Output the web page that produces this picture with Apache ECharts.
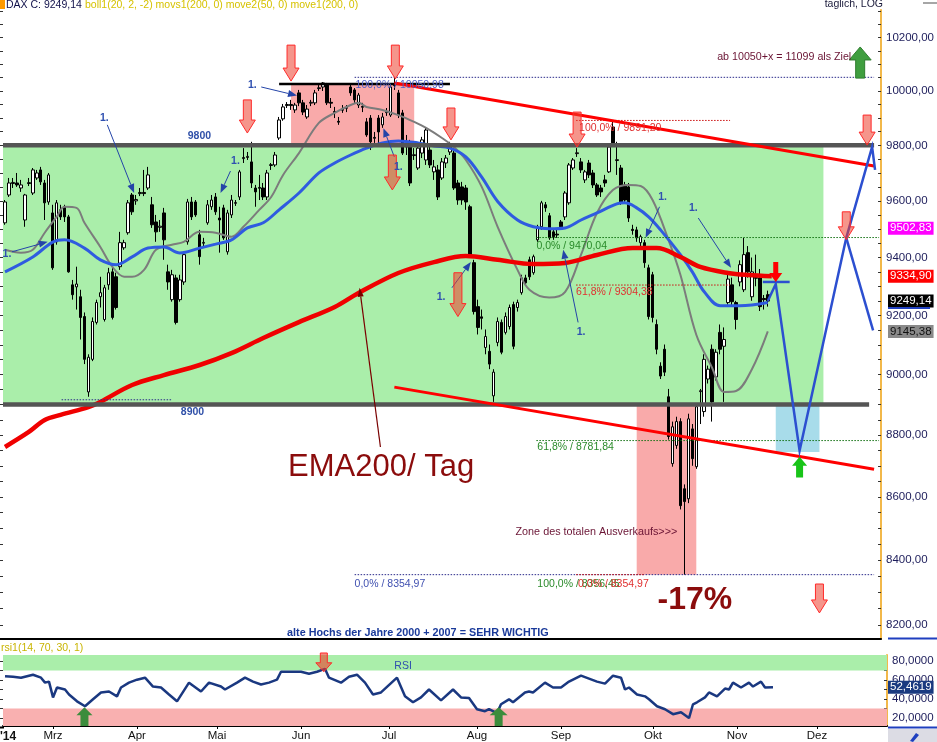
<!DOCTYPE html>
<html><head><meta charset="utf-8">
<script src="https://cdn.jsdelivr.net/npm/echarts@6/dist/echarts.min.js"></script>
<style>html,body{margin:0;padding:0;background:#fff}#c{width:937px;height:742px}</style>
</head><body><div id="c"></div>
<script>
// ---------------- DATA ----------------
const holidays = ['2014-04-18','2014-04-21','2014-05-01','2014-12-24','2014-12-25','2014-12-26'];
const categories = [];
for (let d = Date.UTC(2014,1,12); categories.length < 221; d += 86400000) {
  const dt = new Date(d), wd = dt.getUTCDay(), s = dt.toISOString().slice(0,10);
  if (wd !== 0 && wd !== 6 && holidays.indexOf(s) < 0) categories.push(s);
}
const monthTicks = [[12,'Mrz'],[33,'Apr'],[53,'Mai'],[74,'Jun'],[96,'Jul'],[118,'Aug'],[139,'Sep'],[162,'Okt'],[183,'Nov'],[203,'Dez']];
const priceLabels = [8200,8400,8600,8800,9000,9200,9400,9600,9800,10000,10200];
const rsiLabels = [20,40,60,80];
const rsiMinorTicks = [20,30,40,50,60,70,80];
// [open, close, low, high]
const ohlc = [
[9522,9596,9515,9603],[9621,9664,9614,9682],[9662,9666,9646,9682],[9664,9657,9650,9700],[9646,9657,9632,9675],
[9532,9621,9508,9625],[9665,9662,9653,9682],[9628,9711,9621,9718],[9682,9700,9675,9711],[9711,9668,9657,9722],
[9664,9593,9532,9675],[9596,9693,9586,9700],[9557,9364,9357,9586],[9455,9593,9445,9603],[9568,9543,9532,9586],
[9579,9543,9525,9586],[9543,9350,9347,9550],[9305,9271,9254,9322],[9298,9308,9220,9368],[9264,9193,9118,9288],
[9196,9051,9035,9210],[8942,9058,8926,9068],[9051,9179,9045,9193],[9176,9244,9169,9254],[9264,9278,9227,9333],
[9186,9295,9179,9305],[9305,9347,9288,9364],[9350,9193,9186,9375],[9333,9227,9220,9347],[9368,9452,9357,9490],
[9434,9452,9427,9462],[9487,9593,9480,9603],[9621,9561,9550,9628],[9600,9605,9586,9621],[9626,9630,9617,9646],
[9630,9626,9617,9711],[9646,9693,9639,9722],[9586,9515,9504,9614],[9525,9490,9455,9550],[9506,9510,9490,9532],
[9557,9462,9392,9575],[9350,9315,9288,9375],[9254,9340,9247,9357],[9329,9176,9169,9340],[9254,9322,9247,9340],
[9315,9410,9305,9420],[9455,9596,9445,9607],[9596,9543,9532,9614],[9596,9550,9543,9603],[9480,9403,9375,9497],
[9450,9453,9434,9469],[9522,9586,9515,9603],[9579,9603,9568,9621],[9614,9561,9550,9628],[9539,9532,9417,9579],
[9575,9469,9462,9586],[9420,9557,9410,9568],[9550,9603,9539,9621],[9591,9594,9582,9603],[9614,9704,9603,9711],
[9752,9756,9736,9790],[9756,9760,9747,9776],[9740,9664,9646,9813],[9646,9632,9579,9657],[9648,9645,9603,9693],
[9646,9614,9603,9664],[9614,9700,9603,9711],[9727,9730,9711,9736],[9729,9765,9722,9776],[9827,9893,9820,9904],
[9897,9941,9890,9952],[9946,9950,9937,9959],[9950,9946,9930,9967],[9930,9948,9919,9956],[9993,9956,9944,10004],
[9956,9922,9911,9967],[9904,9933,9897,9948],[9955,9958,9944,9967],[9956,9993,9948,10004],[10009,10012,10000,10022],
[10015,10030,10000,10033],[10022,9956,9948,10030],[9958,9955,9937,9974],[9924,9920,9900,9941],[9888,9885,9875,9904],
[9932,9929,9919,9948],[9936,9939,9922,9948],[10015,9993,9982,10026],[10004,9967,9956,10011],[9948,9985,9937,9993],
[9943,9940,9922,9956],[9886,9838,9831,9900],[9900,9813,9783,9911],[9829,9826,9809,9849],[9900,9849,9801,9911],
[9875,9904,9864,9919],[9920,9924,9908,9937],[9911,10015,9904,10022],[10020,10023,10004,10051],[9993,9911,9900,10004],
[9919,9772,9765,9930],[9813,9794,9765,9838],[9809,9664,9653,9820],[9763,9766,9747,9790],[9718,9790,9711,9801],
[9772,9820,9754,9831],[9747,9856,9729,9867],[9783,9729,9718,9797],[9704,9722,9675,9747],[9711,9614,9603,9729],
[9682,9740,9675,9754],[9736,9754,9718,9765],[9776,9794,9765,9813],[9772,9646,9639,9790],[9664,9603,9586,9675],
[9650,9603,9586,9668],[9646,9596,9568,9657],[9579,9410,9399,9586],[9382,9213,9203,9392],[9230,9159,9135,9254],
[9195,9190,9152,9220],[9091,9128,9068,9152],[9078,9035,9018,9101],[8929,9008,8909,9018],[9108,9179,9095,9193],
[9176,9075,9068,9186],[9142,9196,9135,9210],[9162,9227,9152,9237],[9237,9095,9085,9247],[9227,9244,9213,9254],
[9278,9329,9271,9340],[9329,9312,9305,9340],[9392,9333,9322,9403],[9347,9403,9340,9410],[9462,9508,9455,9515],
[9508,9593,9497,9600],[9586,9575,9561,9596],[9547,9469,9462,9557],[9490,9473,9462,9500],[9482,9479,9469,9497],
[9525,9508,9497,9532],[9543,9628,9532,9635],[9593,9729,9586,9736],[9718,9747,9711,9754],[9770,9773,9758,9790],
[9740,9711,9700,9754],[9675,9704,9664,9711],[9736,9693,9682,9747],[9700,9657,9646,9711],[9657,9621,9614,9664],
[9646,9632,9614,9657],[9675,9664,9650,9693],[9704,9794,9700,9801],[9867,9809,9794,9891],[9745,9748,9693,9813],
[9718,9596,9586,9729],[9657,9603,9590,9668],[9650,9539,9525,9664],[9499,9495,9480,9515],[9497,9469,9455,9508],
[9452,9473,9440,9480],[9452,9382,9364,9462],[9364,9196,9186,9375],[9340,9193,9176,9350],[9169,9085,9068,9186],
[9028,8995,8985,9041],[9085,9008,8995,9101],[8926,8795,8785,8952],[8707,8827,8697,8844],[8766,8844,8755,8860],
[8844,8572,8560,8855],[8626,8585,8355,8640],[8594,8853,8580,8870],[8820,8723,8700,8836],[8697,8893,8690,8905],
[8943,8946,8836,8952],[8877,9051,8860,9068],[8985,9018,8970,9030],[9085,8909,8844,9101],[8992,9075,8980,9085],
[9142,9085,9068,9169],[9095,9118,8909,9159],[9244,9325,9237,9345],[9305,9247,9230,9330],[9244,9186,9152,9250],
[9315,9375,9300,9390],[9288,9410,9280,9469],[9417,9350,9330,9440],[9264,9350,9250,9400],[9330,9328,9300,9410],
[9329,9230,9215,9360],[9258,9254,9220,9270],[9271,9249.14,9230,9285]
];
// [day index, value]
const ema200 = [[0,8761],[6,8810],[10,8849],[14,8866],[21,8892],[24,8909],[32,8965],[40,8998],[49,9032],[57,9072],[65,9123],[74,9177],[83,9229],[89,9277],[99,9346],[108,9384],[116,9405],[124,9392],[133,9377],[141,9381],[149,9409],[158,9433],[164,9433],[170,9402],[175,9367],[182,9346],[187,9339],[193,9334.9]];
const ma50 = [[0,9350],[7,9402],[12,9454],[15,9462],[20,9433],[24,9392],[28,9375],[32,9402],[36,9433],[40,9437],[44,9416],[49,9433],[53,9447],[57,9462],[61,9504],[65,9522],[69,9568],[74,9628],[79,9700],[83,9736],[87,9765],[91,9790],[95,9809],[99,9816],[104,9809],[108,9798],[112,9790],[116,9758],[120,9685],[124,9598],[129,9532],[133,9508],[137,9501],[141,9504],[145,9532],[149,9557],[154,9589],[156,9593],[159,9575],[162,9543],[165,9497],[170,9410],[173,9350],[176,9281],[180,9233],[185,9233],[192,9244]];
const boll20 = [[0,9427],[4,9417],[7,9427],[10,9487],[13,9543],[15,9579],[18,9575],[20,9522],[24,9437],[27,9368],[30,9333],[32,9333],[35,9357],[38,9427],[42,9445],[45,9455],[49,9490],[53,9487],[57,9473],[60,9508],[64,9568],[67,9614],[70,9693],[74,9772],[79,9882],[83,9919],[87,9948],[89,9956],[91,9941],[95,9930],[99,9911],[103,9886],[106,9864],[110,9827],[113,9794],[116,9747],[120,9650],[124,9508],[129,9357],[132,9288],[137,9261],[141,9281],[145,9410],[149,9557],[153,9639],[157,9657],[160,9653],[163,9603],[167,9462],[170,9340],[174,9134],[178,9022],[181,8942],[184,8945],[188,9018],[192,9145.38]];
const rsi = [[0,64],[2,63.4],[4,62.4],[7,65.5],[9,62.4],[10,57.2],[11,58.3],[12,41.7],[13,52.1],[15,50],[16,44.8],[18,37.6],[20,32.4],[22,39.7],[24,46.9],[26,47.9],[28,42.8],[29,52.1],[31,57.2],[33,60.3],[35,62.4],[37,53.1],[39,52.1],[41,44.8],[43,37.6],[46,57.2],[49,47.9],[51,57.2],[54,53.1],[55,50],[58,57.2],[60,62.4],[62,58.3],[64,55.2],[66,57.2],[68,60.3],[69,68.6],[72,68.6],[74,68.6],[76,66.6],[78,68.6],[80,71.7],[81,62.4],[84,57.2],[86,63.4],[88,65.5],[90,57.2],[92,44.8],[94,46.9],[98,62.4],[100,42.8],[102,36.6],[104,41.7],[106,50],[109,38.6],[112,50],[114,41.7],[116,41],[118,29.3],[120,27.2],[121,29.3],[123,25.2],[124,34.5],[126,39.7],[127,36.6],[130,46.9],[131,47.9],[132,46.9],[135,57.2],[137,52.1],[139,52.1],[141,58.3],[144,64.5],[146,61.4],[148,58.3],[150,56.2],[152,64.5],[154,62.4],[155,50],[156,52.1],[158,44.8],[160,42.8],[161,39.7],[163,32.4],[165,29.3],[167,24.1],[169,26.2],[171,20],[172,34.5],[173,36.6],[175,41.7],[176,46.9],[178,42.8],[180,51],[181,50],[182,57.2],[184,52.1],[186,57.2],[187,53.1],[189,58.3],[190,52.1],[192,52.4619]];

// annotation values (day index, price)
const zones = [[-0.5,206,9800,8900,'#aaeeaa'],[72,103,10026,9800,'#f9aaaa'],[159,174,8900,8355,'#f9aaaa'],[194,205,8900,8745,'#a8dcea']];
const levelBars = [[-0.5,218.75,9800],[-0.5,217.5,8900]];
const trendLines = [[98,10030,218.75,9725],[98,8958,218.75,8689]];
const fibLines = [[88,218.75,10050.98,'#2a2a8a'],[143.75,182.5,9891.2,'#cc1010'],[133.75,220,9470.04,'#107010'],[143.75,182.5,9304.38,'#cc1010'],[133.75,220,8781.84,'#107010'],[88,218.75,8354.97,'#2a2a8a'],[143.75,161,8354.97,'#cc1010'],[14.25,42,8916,'#2a2a8a']];
const fibLabels = [[88.25,10022,'100,0% / 10050,98','#5060c8'],[144.5,9863,'100,0% / 9891,20','#e03030'],[133.75,9440,'0,0% / 9470,04','#2a8a2a'],[143.75,9281,'61,8% / 9304,38','#e03030'],[134,8762,'61,8% / 8781,84','#2a8a2a'],[88,8326,'0,0% / 8354,97','#4050b0'],[134,8326,'100,0% / 8356,45','#2a8a2a'],[144.25,8326,'0,0% / 8354,97','#e03030']];
const downArrows = [[72,10172,10037],[98.25,10172,10045],[61,9967,9845],[112.25,9937,9820],[97.5,9765,9639],[114,9347,9196],[144,9922,9794],[217,9911,9801],[211.75,9561,9462],[205,8326,8237]];
const oneMarks = [[25,9900,25.75,9875,32.5,9628],[0.5,9413,1.75,9420,10.75,9455],[58,9743,56.75,9707,54.25,9628],[62.25,10022,64.5,10015,73.5,9983],[99,9722,98,9758,95.25,9863],[109.75,9261,112.5,9295,117.25,9384],[165.5,9614,164.75,9579,161.25,9469],[173.25,9575,174.5,9539,182.75,9364],[145,9142,144.25,9176,140.5,9427]];
const projection = [[192,9249],[194,9308],[200,8749],[211.75,9469],[218.25,9794],[219,9711]];
const projection2 = [[211.75,9469],[218.5,9149]];
const projFlat = [[190.75,9315],[197.5,9315]];
const valueTags = [[9502.83,'9502,83','#ff00ff','#ffffff'],[9334.90,'9334,90','#ff0000','#ffffff'],[9249.14,'9249,14','#000000','#ffffff'],[9145.38,'9145,38','#8a8a8a','#111111']];

// ---------------- CHART ----------------
const F = "'Liberation Sans', Arial, sans-serif";
const L = v => Math.log10(v);
const priceMin = 8157.6, priceMax = 10305.6, rsiMin = 11.7, rsiMax = 86.2;
const priceMinor = []; for (let p = 8200; p <= 10300; p += 50) priceMinor.push(p);
const tickMap = {}; monthTicks.forEach(m => tickMap[m[0]] = m[1]);
const isTick = i => tickMap[i] !== undefined;

const chart = echarts.init(document.getElementById('c'), null, {renderer: 'canvas'});
const orange = '#f2b84a';
chart.setOption({
  animation: false,
  textStyle: {fontFamily: F},
  grid: [{left: 3, right: 50, top: 10, height: 629}, {left: 3, right: 50, top: 655, height: 72}],
  xAxis: [
    {type: 'category', gridIndex: 0, data: categories, boundaryGap: true,
     axisLine: {show: true, onZero: false, lineStyle: {color: '#000', width: 2}},
     axisTick: {show: false}, axisLabel: {show: false}, splitLine: {show: false}},
    {type: 'category', gridIndex: 1, data: categories, boundaryGap: true,
     axisLine: {show: true, onZero: false, lineStyle: {color: '#000', width: 2}},
     axisTick: {show: true, alignWithLabel: true, length: 3, interval: i => isTick(i), lineStyle: {color: '#000'}},
     axisLabel: {show: true, interval: i => isTick(i), formatter: (v, i) => tickMap[i] || '', fontSize: 11.5, color: '#111', margin: 4, fontFamily: F},
     splitLine: {show: false}}
  ],
  yAxis: [
    {type: 'value', gridIndex: 0, position: 'right', min: L(priceMin), max: L(priceMax),
     axisLine: {show: true, lineStyle: {color: orange, width: 2}},
     axisTick: {show: true, inside: true, length: 3, customValues: priceMinor.map(L), lineStyle: {color: '#333'}},
     axisLabel: {show: true, customValues: priceLabels.map(L), formatter: v => Math.round(Math.pow(10, v)).toFixed(2).replace('.', ','), color: '#1c1c5a', fontSize: 11.5, margin: 5, fontFamily: F},
     splitLine: {show: false}},
    {type: 'value', gridIndex: 0, position: 'left', min: L(priceMin), max: L(priceMax),
     axisLine: {show: false}, axisTick: {show: true, length: 3, customValues: priceMinor.map(L), lineStyle: {color: '#333'}},
     axisLabel: {show: false}, splitLine: {show: false}},
    {type: 'value', gridIndex: 1, position: 'right', min: rsiMin, max: rsiMax,
     axisLine: {show: true, lineStyle: {color: orange, width: 2}},
     axisTick: {show: true, inside: true, length: 3, customValues: rsiMinorTicks, lineStyle: {color: '#333'}},
     axisLabel: {show: true, customValues: rsiLabels, formatter: v => v.toFixed(4).replace('.', ','), color: '#1c1c5a', fontSize: 11.5, margin: 5, fontFamily: F},
     splitLine: {show: false}},
    {type: 'value', gridIndex: 1, position: 'left', min: rsiMin, max: rsiMax,
     axisLine: {show: false}, axisTick: {show: true, length: 3, customValues: rsiMinorTicks, lineStyle: {color: '#333'}},
     axisLabel: {show: false}, splitLine: {show: false}}
  ],
  series: [
    {type: 'candlestick', xAxisIndex: 0, yAxisIndex: 0, data: ohlc.map(d => d.map(L)), barWidth: 3, z: 5,
     itemStyle: {color: '#ffffff', color0: '#000000', borderColor: '#000000', borderColor0: '#000000', borderWidth: 1}},
    {type: 'line', xAxisIndex: 0, yAxisIndex: 0, data: boll20.map(p => [p[0], L(p[1])]), smooth: 0.35, showSymbol: false, z: 6,
     lineStyle: {color: '#7c7c7c', width: 2}},
    {type: 'line', xAxisIndex: 0, yAxisIndex: 0, data: ma50.map(p => [p[0], L(p[1])]), smooth: 0.35, showSymbol: false, z: 7,
     lineStyle: {color: '#2f5be0', width: 3}},
    {type: 'line', xAxisIndex: 0, yAxisIndex: 0, data: ema200.map(p => [p[0], L(p[1])]), smooth: 0.35, showSymbol: false, z: 8,
     lineStyle: {color: '#f00000', width: 4.5}},
    {type: 'line', xAxisIndex: 1, yAxisIndex: 2, data: rsi, showSymbol: false, z: 6,
     lineStyle: {color: '#1a3880', width: 2.5},
     markArea: {silent: true, data: [
       [{yAxis: 70, itemStyle: {color: '#aaeeaa'}}, {yAxis: rsiMax}],
       [{yAxis: rsiMin, itemStyle: {color: '#f9b0b0'}}, {yAxis: 30}]
     ]}}
  ]
});

// ---------------- ANNOTATIONS ----------------
const xa = chart.convertToPixel({xAxisIndex: 0}, categories[0]);
const xb = chart.convertToPixel({xAxisIndex: 0}, categories[200]);
const X = i => xa + (xb - xa) * i / 200;
const Y = v => chart.convertToPixel({yAxisIndex: 0}, L(v));
const YR = r => chart.convertToPixel({yAxisIndex: 2}, r);
const G = [];
function txt(x, y, text, color, size, weight, align, extra) {
  const st = Object.assign({text: text, fill: color, font: (weight || 'normal') + ' ' + size + 'px ' + F,
    align: align || 'left', verticalAlign: 'middle', textAlign: align || 'left', textVerticalAlign: 'middle'}, extra || {});
  return {type: 'text', x: x, y: y, z: 40, style: st};
}
function line(x1, y1, x2, y2, color, w, dash, z) {
  return {type: 'line', z: z || 20, shape: {x1: x1, y1: y1, x2: x2, y2: y2}, style: {stroke: color, lineWidth: w, lineDash: dash || null}};
}
function blockArrow(cx, yTail, yTip, headW, shaftW, headLen, fill, stroke) {
  const d = yTip > yTail ? 1 : -1, yh = yTip - d * headLen;
  return {type: 'polygon', z: 35, shape: {points: [[cx - shaftW / 2, yTail], [cx + shaftW / 2, yTail], [cx + shaftW / 2, yh], [cx + headW / 2, yh], [cx, yTip], [cx - headW / 2, yh], [cx - shaftW / 2, yh]]},
    style: {fill: fill, stroke: stroke || null, lineWidth: stroke ? 1 : 0}};
}
function thinArrow(x1, y1, x2, y2, color, w, hl, hw) {
  const a = Math.atan2(y2 - y1, x2 - x1), bx = x2 - hl * Math.cos(a), by = y2 - hl * Math.sin(a);
  const px = -Math.sin(a) * hw / 2, py = Math.cos(a) * hw / 2;
  return [line(x1, y1, bx, by, color, w, null, 30),
    {type: 'polygon', z: 30, shape: {points: [[x2, y2], [bx + px, by + py], [bx - px, by - py]]}, style: {fill: color}}];
}

zones.forEach(z => G.push({type: 'rect', z: 1, shape: {x: X(z[0]), y: Y(z[2]), width: X(z[1]) - X(z[0]), height: Y(z[3]) - Y(z[2])}, style: {fill: z[4]}}));
levelBars.forEach(b => G.push(line(X(b[0]), Y(b[2]), X(b[1]), Y(b[2]), '#555555', 4.5, null, 12)));
G.push(line(X(69), Y(10026), X(112), Y(10026), '#000000', 2.5, null, 12));
trendLines.forEach(t => G.push(line(X(t[0]), Y(t[1]), X(t[2]), Y(t[3]), '#ff0000', 3, null, 22)));
fibLines.forEach(f => G.push(line(X(f[0]), Y(f[2]), X(f[1]), Y(f[2]), f[3], 1, [1.5, 1.5], 15)));
fibLabels.forEach(f => G.push(txt(X(f[0]), Y(f[1]), f[2], f[3], 10.5)));
// projection
G.push({type: 'polyline', z: 24, shape: {points: projection.map(p => [X(p[0]), Y(p[1])])}, style: {stroke: '#2c4fd0', lineWidth: 2.5, fill: null}});
G.push({type: 'polyline', z: 24, shape: {points: projection2.map(p => [X(p[0]), Y(p[1])])}, style: {stroke: '#2c4fd0', lineWidth: 2.5, fill: null}});
G.push(line(X(projFlat[0][0]), Y(projFlat[0][1]), X(projFlat[1][0]), Y(projFlat[1][1]), '#2c4fd0', 2.5, null, 24));
// arrows
downArrows.forEach(a => G.push(blockArrow(X(a[0]), Y(a[1]), Y(a[2]), 16, 8, 13, 'rgba(236,62,44,0.55)', '#ff2a2a')));
G.push(blockArrow(X(194), Y(9384), Y(9315), 13, 5, 9, '#ff0000', null));
G.push(blockArrow(X(215.25), Y(10048), Y(10165), 22, 9, 13, '#3f9e3f', '#2e7e2e'));
G.push(blockArrow(X(200), Y(8662), Y(8729), 15, 7, 9, '#18c418', null));
G.push(blockArrow(X(80.25), YR(88.3), YR(68.6), 16, 7, 9, 'rgba(236,62,44,0.6)', '#ff2a2a'));
G.push(blockArrow(X(20), YR(rsiMin), YR(31.4), 16, 8, 8, '#3c8c3c', null));
G.push(blockArrow(X(124.25), YR(rsiMin), YR(31.4), 18, 8, 8, '#3c8c3c', null));
// "1." marks
oneMarks.forEach(m => {
  G.push(txt(X(m[0]), Y(m[1]), '1.', '#2f50b0', 10.5, 'bold', 'center'));
  thinArrow(X(m[2]), Y(m[3]), X(m[4]), Y(m[5]), '#2444a8', 1, 9, 7).forEach(e => G.push(e));
});
thinArrow(X(94.5), Y(8761), X(89.25), Y(9295), '#7a0000', 1.2, 9, 6).forEach(e => G.push(e));
// texts
G.push(txt(X(46), Y(9834), '9800', '#3050a8', 10.5, 'bold'));
G.push(txt(X(44.25), Y(8876), '8900', '#3050a8', 10.5, 'bold'));
G.push(txt(X(179.25), Y(10127), 'ab 10050+x = 11099 als Ziel', '#6a1434', 10.7));
G.push(txt(X(71.25), Y(8696), 'EMA200/ Tag', '#8b0c0c', 31));
G.push(txt(X(164.25), Y(8277), '-17%', '#8b0c0c', 32, 'bold'));
G.push(txt(X(128.5), Y(8487), 'Zone des totalen Ausverkaufs>>>', '#6a1434', 10.8));
G.push(txt(X(71), Y(8177), 'alte Hochs der Jahre 2000 + 2007 = SEHR WICHTIG', '#1a3a9a', 10.8, 'bold'));
G.push(txt(X(98), YR(74.8), 'RSI', '#2f4fae', 10.5));
// right value tags
valueTags.forEach(t => G.push(txt(888, Y(t[0]), t[1], t[3], 11.5, 'normal', 'left', {backgroundColor: t[2], padding: [1, 2, 0, 2]})));
G.push(line(888, Y(9249.14) + 7, 930, Y(9249.14) + 7, '#2040c0', 2, null, 41));
G.push(txt(888, YR(52.4619), '52,4619', '#ffffff', 11.5, 'normal', 'left', {backgroundColor: '#1a3a80', padding: [1, 2, 0, 2]}));
// header / frame
G.push({type: 'rect', z: 40, shape: {x: 0, y: 0, width: 5, height: 9}, style: {fill: '#ff9a00'}});
G.push(txt(6, 5, 'DAX C: 9249,14', '#10104a', 10.5));
G.push(txt(85, 5, 'boll1(20, 2, -2) movs1(200, 0) move2(50, 0) move1(200, 0)', '#d6c200', 10.5));
G.push(txt(883, 4, 'taglich, LOG', '#1a1a3a', 10.5, 'normal', 'right'));
G.push(line(923, 3, 937, 3, '#888888', 1.5, null, 40));
G.push(txt(1, 648, 'rsi1(14, 70, 30, 1)', '#c8b400', 10.5));
G.push(txt(0, 737, "'14", '#111111', 12, 'bold'));
G.push(line(0, 639, 4, 639, '#000', 2, null, 40));
G.push(line(888, 638.5, 937, 638.5, '#1f3fbf', 2, null, 40));
G.push(line(0, 727.5, 4, 727.5, '#000', 2, null, 40));
G.push(line(888, 727.5, 937, 727.5, '#1f3fbf', 2, null, 40));
G.push({type: 'rect', z: 40, shape: {x: 888, y: 729, width: 49, height: 13}, style: {fill: '#dcdce4'}});
G.push({type: 'polygon', z: 41, shape: {points: [[910, 741], [916, 733], [919, 735], [913, 742]]}, style: {fill: '#1f3fbf'}});

chart.setOption({graphic: G});
</script>
</body></html>
